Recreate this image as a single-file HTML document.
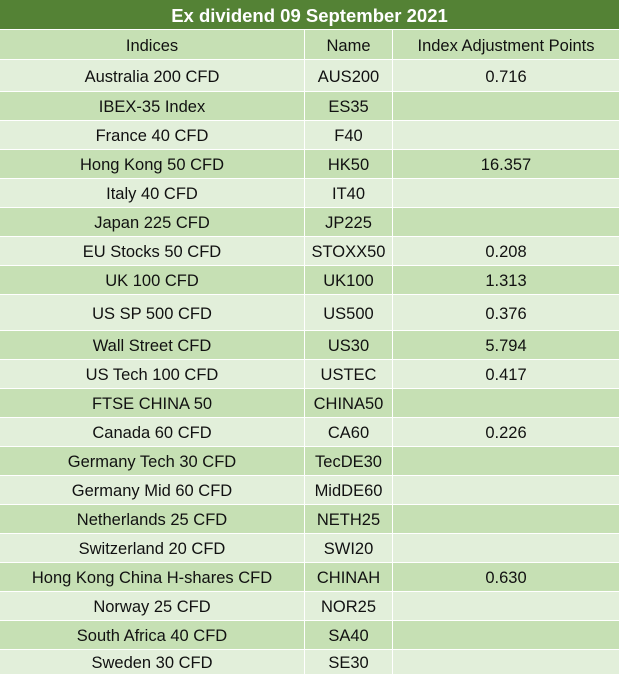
<!DOCTYPE html>
<html><head><meta charset="utf-8"><style>
body{margin:0;width:619px;height:674px;overflow:hidden;background:#fff;font-family:"Liberation Sans",sans-serif;}
#t{position:absolute;left:0;top:0;width:619px;}
.r{position:absolute;left:0;width:619px;display:flex;box-sizing:border-box;border-top:1px solid #fff;}
.c{display:flex;align-items:center;justify-content:center;font-size:16.5px;color:#111;box-sizing:border-box;height:100%;padding-top:3px;}
.c1{width:305px;border-right:1px solid #fff}.c2{width:88px;border-right:1px solid #fff}.c3{flex:1}
.title{position:absolute;left:0;top:0;width:619px;height:29px;background:#548235;color:#fff;font-weight:bold;font-size:18.5px;display:flex;align-items:center;justify-content:center;padding-top:2px;box-sizing:border-box;}
</style></head><body>
<div id="t">
<div class="title">Ex dividend 09 September 2021</div>
</div>
<script>
const indices=["Australia 200 CFD","IBEX-35 Index","France 40 CFD","Hong Kong 50 CFD","Italy 40 CFD","Japan 225 CFD","EU Stocks 50 CFD","UK 100 CFD","US SP 500 CFD","Wall Street CFD","US Tech 100 CFD","FTSE CHINA 50","Canada 60 CFD","Germany Tech 30 CFD","Germany Mid 60 CFD","Netherlands 25 CFD","Switzerland 20 CFD","Hong Kong China H-shares CFD","Norway 25 CFD","South Africa 40 CFD","Sweden 30 CFD"];
const names=["AUS200","ES35","F40","HK50","IT40","JP225","STOXX50","UK100","US500","US30","USTEC","CHINA50","CA60","TecDE30","MidDE60","NETH25","SWI20","CHINAH","NOR25","SA40","SE30"];
const points=["0.716","","","16.357","","","0.208","1.313","0.376","5.794","0.417","","0.226","","","","","0.630","","",""];
const tops=[29,59,91,120,149,178,207,236,265,294,330,359,388,417,446,475,504,533,562,591,620,649,674];
const t=document.getElementById('t');
function row(i,a,b,c,bg){
  const r=document.createElement('div');r.className='r';
  
  
  r.style.top=tops[i]+'px';r.style.height=(tops[i+1]-tops[i])+'px';r.style.background=bg;
  [a,b,c].forEach((v,k)=>{const d=document.createElement('div');d.className='c c'+(k+1);d.textContent=v;
    
    
    r.appendChild(d);});
  t.appendChild(r);
}
row(0,"Indices","Name","Index Adjustment Points","#c6e0b4");
indices.forEach((n,i)=>row(i+1,n,names[i],points[i],i%2===0?"#e2efda":"#c6e0b4"));
</script>
</body></html>
